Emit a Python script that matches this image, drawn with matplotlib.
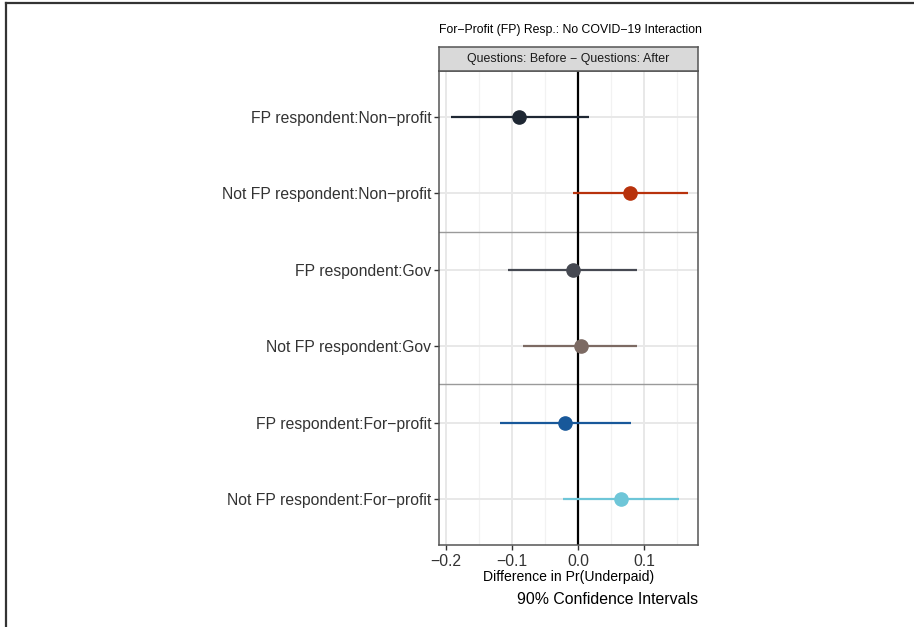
import matplotlib
matplotlib.use("Agg")
import matplotlib.pyplot as plt
from matplotlib.lines import Line2D
import numpy as np

plt.rcParams['font.family'] = ['Liberation Sans', 'DejaVu Sans']

# data
labels = [
    "FP respondent:Non\u2212profit",
    "Not FP respondent:Non\u2212profit",
    "FP respondent:Gov",
    "Not FP respondent:Gov",
    "FP respondent:For\u2212profit",
    "Not FP respondent:For\u2212profit",
]
estimates = [-0.089, 0.079, -0.008, 0.004, -0.020, 0.065]
lower = [-0.193, -0.007, -0.106, -0.083, -0.118, -0.022]
upper = [0.016, 0.166, 0.090, 0.090, 0.080, 0.153]
colors = ["#1e2733", "#b8320c", "#464952", "#7c6a63", "#18589a", "#6ec6d8"]
xticks = [-0.2, -0.1, 0.0, 0.1]
xtick_labels = ["\u22120.2", "\u22120.1", "0.0", "0.1"]

W, H = 914, 627
fig = plt.figure(figsize=(W / 100, H / 100), dpi=100)

# panel
left, right, top, bottom = 439, 698, 71, 545
ax = fig.add_axes([left / W, 1 - bottom / H, (right - left) / W, (bottom - top) / H])
ypos = np.arange(1, len(labels) + 1)

ax.set_xlim(-0.2106, 0.1818)
ax.set_ylim(6.6, 0.4)

for v in [-0.15, -0.05, 0.05, 0.15]:
    ax.axvline(v, color="#f2f2f2", lw=0.9, zorder=0)
for v in xticks:
    ax.axvline(v, color="#e8e8e8", lw=1.4, zorder=0)
for y in ypos:
    ax.axhline(y, color="#e8e8e8", lw=1.4, zorder=0)

for sep in [2.5, 4.5]:
    ax.axhline(sep, color="#9a9a9a", lw=1.0, zorder=1)

ax.axvline(0, color="black", lw=1.6, zorder=2)

for y, est, lo, hi, c in zip(ypos, estimates, lower, upper, colors):
    ax.plot([lo, hi], [y, y], color=c, lw=1.6, zorder=3, solid_capstyle="butt")
    ax.plot(est, y, "o", color=c, markersize=9.5, zorder=4)

ax.set_yticks(ypos)
ax.set_yticklabels(labels, fontsize=11.3, color="#333333")
ax.set_xticks(xticks)
ax.set_xticklabels(xtick_labels, fontsize=11.3, color="#333333")
ax.tick_params(axis="both", length=3.5, width=1.0, color="#333333", pad=2)
ax.tick_params(axis="x", pad=3)
for s in ax.spines.values():
    s.set_color("#555555")
    s.set_linewidth(1.1)

ax.set_xlabel("Difference in Pr(Underpaid)", fontsize=10.1, labelpad=1, color="black")

# strip header
strip = fig.add_axes([left / W, 1 - top / H, (right - left) / W, 24 / H])
strip.set_facecolor("#d9d9d9")
strip.set_xticks([])
strip.set_yticks([])
for s in strip.spines.values():
    s.set_color("#555555")
    s.set_linewidth(1.1)
strip.text(0.5, 0.5, "Questions: Before \u2212 Questions: After", fontsize=8.9,
           ha="center", va="center", transform=strip.transAxes, color="#1a1a1a")

fig.text((left + right) / 2 / W + 2 / W, 1 - 30 / H,
         "For\u2212Profit (FP) Resp.: No COVID\u221219 Interaction",
         fontsize=8.8, ha="center", va="center", color="black")

fig.text(right / W, 1 - 600 / H, "90% Confidence Intervals",
         fontsize=11.4, ha="right", va="center", color="black")

# outer frame on left and top
fig.add_artist(Line2D([5.5 / W, 5.5 / W], [0, 1 - 2.5 / H], transform=fig.transFigure,
                      color="#333333", lw=1.6))
fig.add_artist(Line2D([5.5 / W, 1], [1 - 2.5 / H, 1 - 2.5 / H], transform=fig.transFigure,
                      color="#333333", lw=1.6))

fig.savefig("out.png", dpi=100)
